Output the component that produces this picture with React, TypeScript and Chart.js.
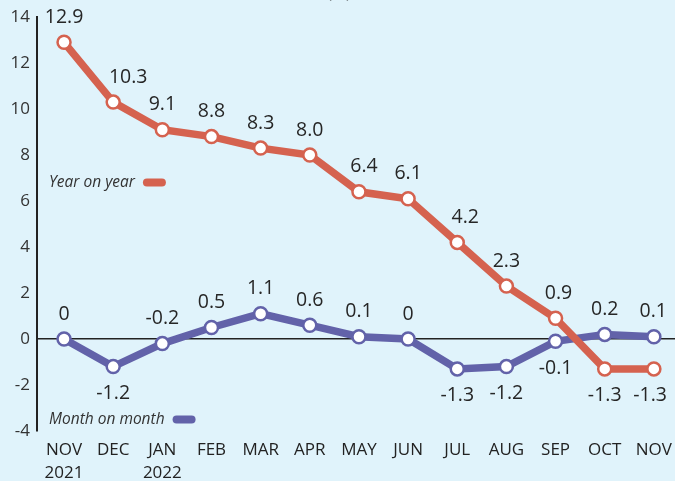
import React, { useEffect, useRef } from "react";
import { Chart, registerables } from "chart.js";

Chart.register(...registerables);

const months = ["NOV", "DEC", "JAN", "FEB", "MAR", "APR", "MAY", "JUN", "JUL", "AUG", "SEP", "OCT", "NOV"];
const years = ["2021", "", "2022", "", "", "", "", "", "", "", "", "", ""];
const yearOnYear = [12.9, 10.3, 9.1, 8.8, 8.3, 8.0, 6.4, 6.1, 4.2, 2.3, 0.9, -1.3, -1.3];
const monthOnMonth = [0, -1.2, -0.2, 0.5, 1.1, 0.6, 0.1, 0, -1.3, -1.2, -0.1, 0.2, 0.1];
const yoyLabelSide = ["up", "up", "up", "up", "up", "up", "up", "up", "up", "up", "up", "down", "down"];
const momLabelSide = ["up", "down", "up", "up", "up", "up", "up", "up", "down", "down", "down", "up", "up"];
const yoyLabelShift = [0, 15, 0, 0, 0, 0, 5, 0, 8, 0, 3, 0, 0];
const yTicks = [-4, -2, 0, 2, 4, 6, 8, 10, 12, 14];

const RED = "#d5624f";
const BLUE = "#6262a9";
const BG = "#e0f3fb";
const TEXT = "#262626";
const FONT = "'Open Sans', 'Noto Sans', sans-serif";

const fmt = (v: number) => (v === 0 ? "0" : v.toFixed(1));

const labelsPlugin = {
  id: "valueLabels",
  afterDatasetsDraw(chart: any) {
    const ctx = chart.ctx;
    const W = chart.width;
    ctx.save();
    ctx.font = `19.5px ${FONT}`;
    ctx.fillStyle = TEXT;
    ctx.textAlign = "center";
    ctx.textBaseline = "middle";
    const sets = [
      { idx: 0, values: yearOnYear, sides: yoyLabelSide, shift: yoyLabelShift },
      { idx: 1, values: monthOnMonth, sides: momLabelSide, shift: null as any },
    ];
    sets.forEach((s) => {
      const meta = chart.getDatasetMeta(s.idx);
      meta.data.forEach((pt: any, i: number) => {
        const txt = fmt(s.values[i]);
        const w = ctx.measureText(txt).width;
        let x = pt.x + (s.shift ? s.shift[i] : 0);
        if (x + w / 2 > W - 8) x = W - 8 - w / 2;
        const y = s.sides[i] === "up" ? pt.y - 25 : pt.y + 27;
        ctx.fillText(txt, x, y);
      });
    });
    ctx.restore();
  },
};

const legendPlugin = {
  id: "customLegend",
  afterDraw(chart: any) {
    const ctx = chart.ctx;
    const area = chart.chartArea;
    const ys = chart.scales.y;
    ctx.save();
    ctx.font = `italic 15.5px ${FONT}`;
    ctx.textAlign = "left";
    ctx.textBaseline = "middle";
    const items = [
      { text: "Year on year", color: RED, v: 6.8 },
      { text: "Month on month", color: BLUE, v: -3.5 },
    ];
    items.forEach((it) => {
      const x = area.left + 12;
      const y = ys.getPixelForValue(it.v);
      ctx.fillStyle = "#333";
      ctx.fillText(it.text, x, y);
      const w = ctx.measureText(it.text).width;
      const bx = x + w + 8;
      ctx.fillStyle = it.color;
      ctx.beginPath();
      const bw = 23, bh = 8, r = 4;
      ctx.moveTo(bx + r, y - bh / 2);
      ctx.lineTo(bx + bw - r, y - bh / 2);
      ctx.arc(bx + bw - r, y, r, -Math.PI / 2, Math.PI / 2);
      ctx.lineTo(bx + r, y + bh / 2);
      ctx.arc(bx + r, y, r, Math.PI / 2, (3 * Math.PI) / 2);
      ctx.closePath();
      ctx.fill();
    });
    ctx.font = `17px ${FONT}`;
    ctx.fillStyle = "#333";
    ctx.textAlign = "center";
    ctx.textBaseline = "alphabetic";
    ctx.fillText("(%)", 339, -2);
    ctx.restore();
  },
};

const bgPlugin = {
  id: "bg",
  beforeDraw(chart: any) {
    const ctx = chart.ctx;
    ctx.save();
    ctx.fillStyle = BG;
    ctx.fillRect(0, 0, chart.width, chart.height);
    ctx.restore();
  },
};

export default function App() {
  const ref = useRef<HTMLCanvasElement>(null);
  useEffect(() => {
    document.body.style.margin = "0";
    const chart = new Chart(ref.current as HTMLCanvasElement, {
      type: "line",
      data: {
        datasets: [
          {
            label: "Year on year",
            data: yearOnYear.map((v, i) => ({ x: i, y: v })),
            borderColor: RED,
            backgroundColor: "#ffffff",
            borderWidth: 7.5,
            pointRadius: 6.5,
            pointBorderWidth: 2.5,
            pointBackgroundColor: "#ffffff",
            pointBorderColor: RED,
            tension: 0,
            clip: false as any,
          },
          {
            label: "Month on month",
            data: monthOnMonth.map((v, i) => ({ x: i, y: v })),
            borderColor: BLUE,
            backgroundColor: "#ffffff",
            borderWidth: 7.5,
            pointRadius: 6.5,
            pointBorderWidth: 2.5,
            pointBackgroundColor: "#ffffff",
            pointBorderColor: BLUE,
            tension: 0,
            clip: false as any,
          },
        ],
      },
      options: {
        animation: false,
        responsive: false,
        layout: { autoPadding: false, padding: { top: 17, right: 0, left: 0, bottom: 0 } },
        plugins: { legend: { display: false }, tooltip: { enabled: false } },
        scales: {
          x: {
            type: "linear",
            min: -0.55,
            max: 12.43,
            afterBuildTicks: (scale: any) => {
              scale.ticks = months.map((_, i) => ({ value: i }));
            },
            afterFit: (scale: any) => {
              scale.height = 50;
              scale.paddingLeft = 0;
              scale.paddingRight = 0;
            },
            grid: { display: false, drawTicks: false },
            border: { display: false },
            ticks: {
              autoSkip: false,
              maxRotation: 0,
              padding: 8,
              color: "#222",
              font: { family: FONT, size: 17, lineHeight: 1.35 },
              callback: (v: any) => {
                const i = Math.round(v);
                return years[i] ? [months[i], years[i]] : months[i];
              },
            },
          },
          y: {
            type: "linear",
            min: -4,
            max: 14,
            afterBuildTicks: (scale: any) => {
              scale.ticks = yTicks.map((v) => ({ value: v }));
            },
            afterFit: (scale: any) => {
              scale.width = 37;
              scale.paddingTop = 0;
              scale.paddingBottom = 0;
            },
            grid: {
              drawTicks: false,
              lineWidth: 1.5,
              color: (c: any) => (c.tick && c.tick.value === 0 ? "#222" : "rgba(0,0,0,0)"),
            },
            border: { display: true, color: "#222", width: 2 },
            ticks: {
              padding: 7,
              color: "#333",
              font: { family: FONT, size: 17 },
            },
          },
        },
      },
      plugins: [bgPlugin, labelsPlugin, legendPlugin],
    });
    return () => chart.destroy();
  }, []);
  return (
    <div style={{ width: 675, height: 481, background: BG }}>
      <canvas ref={ref} width={675} height={481} style={{ display: "block" }} />
    </div>
  );
}
